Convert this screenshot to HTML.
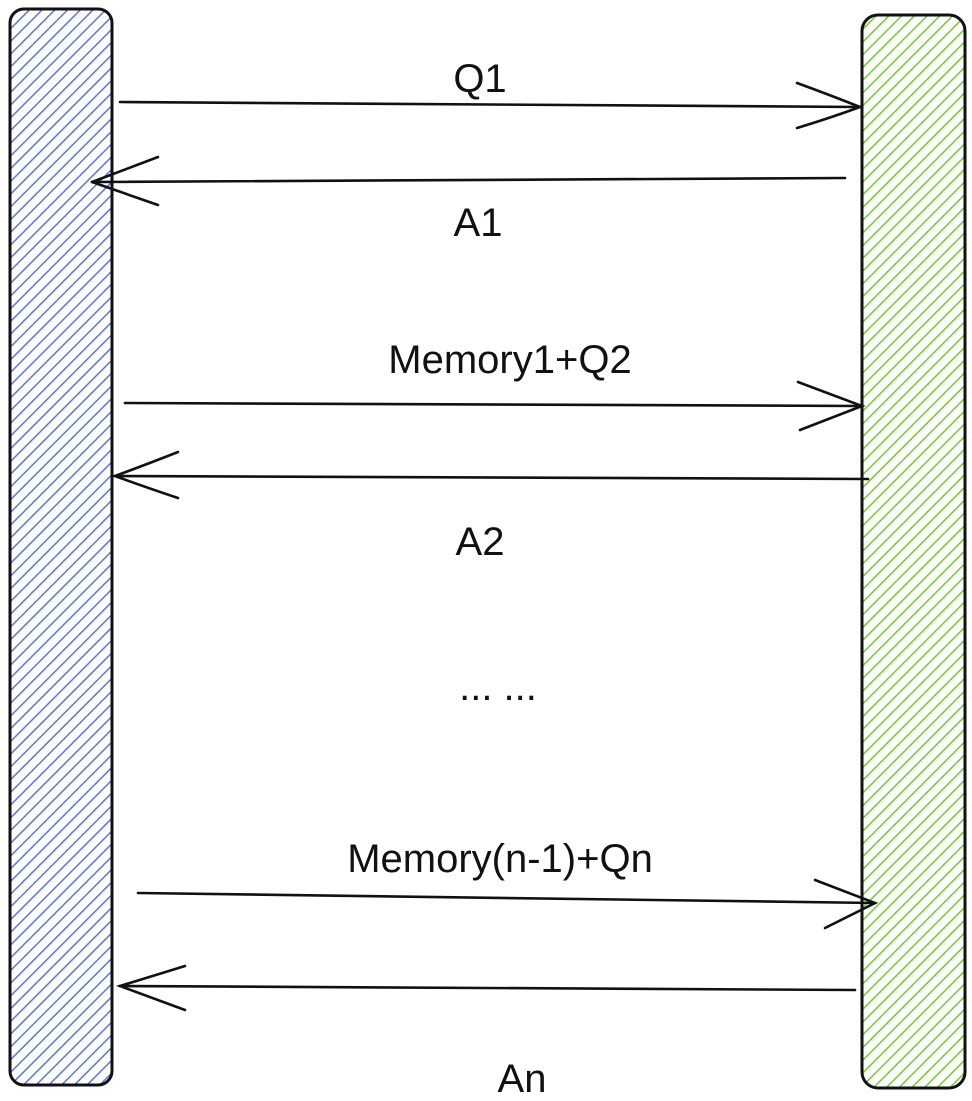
<!DOCTYPE html>
<html><head><meta charset="utf-8"><style>
html,body{margin:0;padding:0;background:#fff;}
svg{display:block;}
text{font-family:"Liberation Sans",Arial,sans-serif;font-size:40px;fill:#111;text-anchor:middle;}
</style></head><body>
<svg width="972" height="1101" viewBox="0 0 972 1101" xmlns="http://www.w3.org/2000/svg">
<defs>
<pattern id="hb" width="9" height="9" patternUnits="userSpaceOnUse" patternTransform="rotate(45)">
<line x1="0" y1="0" x2="0" y2="9" stroke="#5577ee" stroke-width="3"/>
</pattern>
<pattern id="hg" width="9" height="9" patternUnits="userSpaceOnUse" patternTransform="rotate(45)">
<line x1="0" y1="0" x2="0" y2="9" stroke="#6fcf2a" stroke-width="3"/>
</pattern>
</defs>
<rect x="10" y="9" width="102" height="1076" rx="14" fill="url(#hb)" stroke="#111" stroke-width="3"/>
<rect x="862" y="15" width="103" height="1073" rx="16" fill="url(#hg)" stroke="#111" stroke-width="3"/>
<g stroke="#111" stroke-width="2.6" fill="none" stroke-linecap="round">
<path d="M120 102 L860 107"/><path d="M797 83 Q830 95 860 107 Q830 118 797 128"/>
<path d="M845 178 L92 182"/><path d="M92 182 L158 157 M92 182 L158 205"/>
<path d="M125 403 L862 406"/><path d="M798 382 L862 406 L800 430"/>
<path d="M868 479 L115 476"/><path d="M178 452 Q145 465 115 476 Q145 487 178 498"/>
<path d="M138 893 L875 903"/><path d="M815 880 L875 903 L825 928"/>
<path d="M855 990 L120 986"/><path d="M185 966 L120 986 L185 1010"/>
</g>
<text x="480" y="92">Q1</text>
<text x="478" y="236">A1</text>
<text x="510" y="373">Memory1+Q2</text>
<text x="480" y="555">A2</text>
<text x="498" y="700">... ...</text>
<text x="500" y="872">Memory(n-1)+Qn</text>
<text x="522" y="1092">An</text>
</svg>
</body></html>
